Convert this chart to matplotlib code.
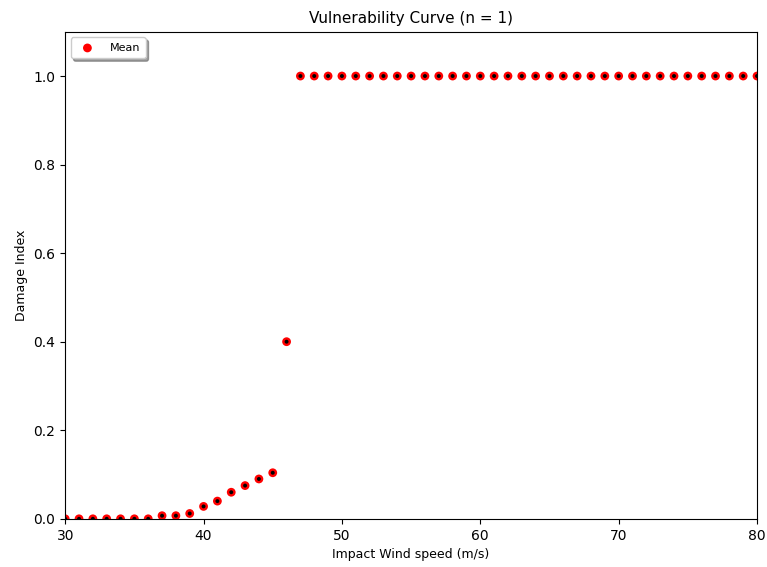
import matplotlib
matplotlib.use('Agg')
import matplotlib.pyplot as plt
import numpy as np

wind_speed = list(range(30, 81))
low_damage = [0.0, 0.0, 0.0, 0.0, 0.0, 0.0, 0.0, 0.007, 0.007, 0.012, 0.028,
              0.040, 0.060, 0.075, 0.090, 0.104, 0.40]
mean_damage = low_damage + [1.0] * (len(wind_speed) - len(low_damage))

fig = plt.figure(figsize=(7.67, 5.67), dpi=100)
ax = fig.add_axes([0.085, 0.085, 0.902, 0.859])

ax.scatter(wind_speed, mean_damage, s=40, c='red', edgecolors='none', label='Mean', zorder=2)
ax.scatter(wind_speed, mean_damage, s=8, c='black', edgecolors='none', zorder=3)

ax.set_xlim(30, 80)
ax.set_ylim(0, 1.1)
ax.set_xticks([30, 40, 50, 60, 70, 80])
ax.set_yticks([0.0, 0.2, 0.4, 0.6, 0.8, 1.0])
ax.tick_params(labelsize=10)
ax.set_xlabel('Impact Wind speed (m/s)', fontsize=9)
ax.set_ylabel('Damage Index', fontsize=9)
ax.set_title('Vulnerability Curve (n = 1)', fontsize=11)
ax.legend(loc='upper left', fontsize=8, shadow=True, fancybox=True, framealpha=1,
          borderpad=0.5, handletextpad=1.0)

fig.savefig('out.png', dpi=100)
